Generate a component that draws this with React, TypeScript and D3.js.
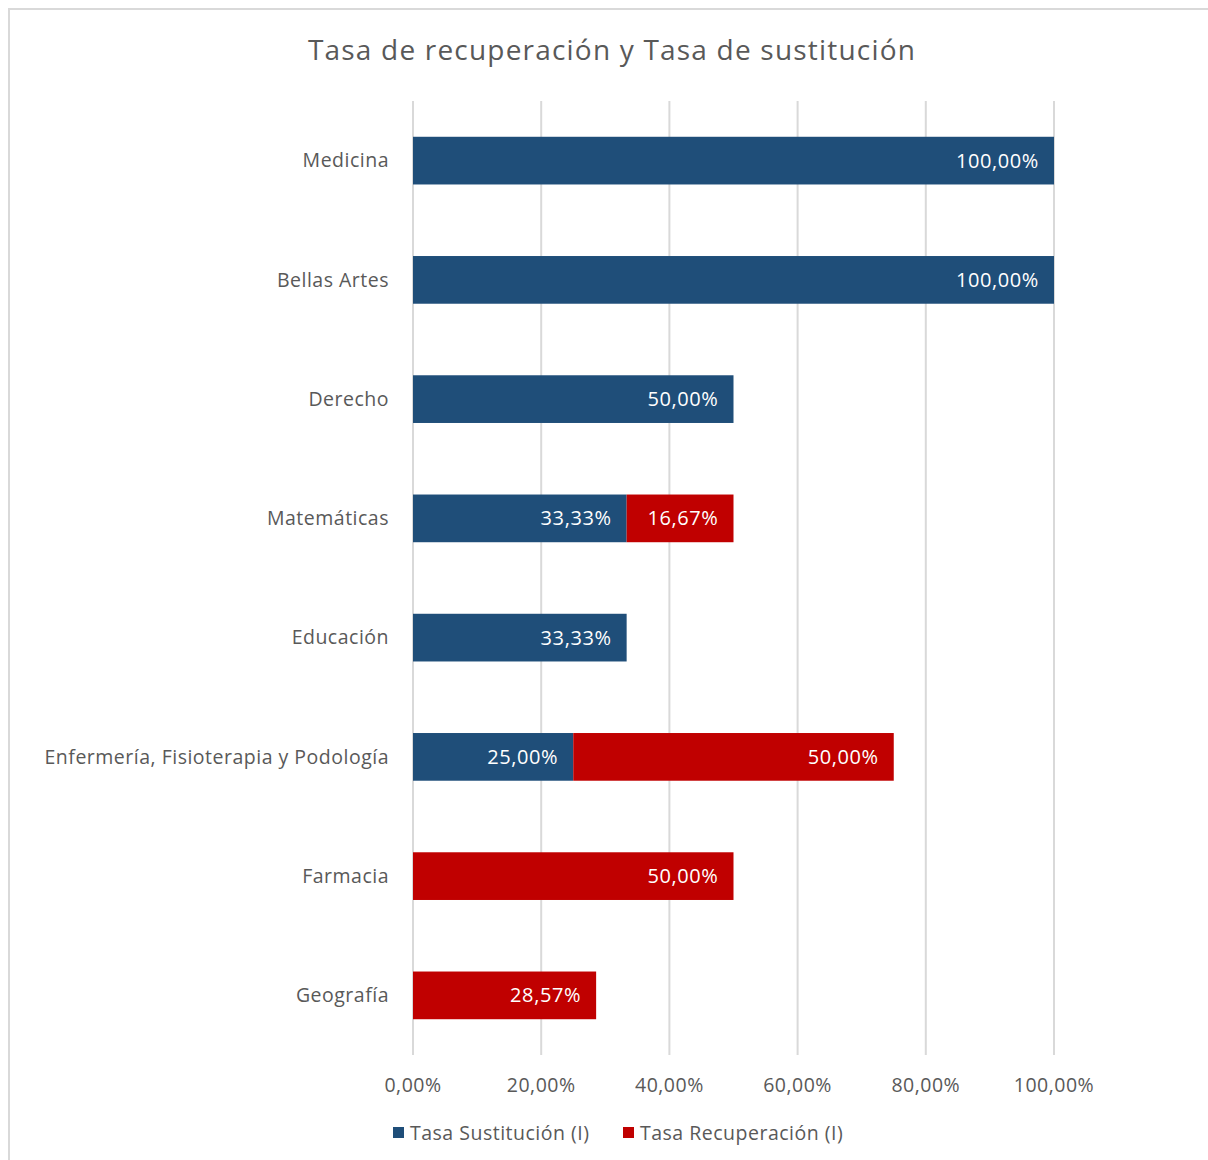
import React from "react";
import * as d3 from "d3";

const categories = [
  "Medicina",
  "Bellas Artes",
  "Derecho",
  "Matemáticas",
  "Educación",
  "Enfermería, Fisioterapia y Podología",
  "Farmacia",
  "Geografía",
];
const sustitucion = [1, 1, 0.5, 0.3333, 0.3333, 0.25, 0, 0];
const recuperacion = [0, 0, 0, 0.1667, 0, 0.5, 0.5, 0.2857];
const seriesNames = ["Tasa Sustitución (I)", "Tasa Recuperación (I)"];
const seriesColors = ["#1F4E79", "#C00000"];
const xTicks = [0, 0.2, 0.4, 0.6, 0.8, 1.0];
const title = "Tasa de recuperación y Tasa de sustitución";

const W = 1208;
const H = 1160;
const FONT = "'Open Sans', sans-serif";
const fmt = (v: number) => (v * 100).toFixed(2).replace(".", ",") + "%";
const LS = 0.5;
const FS = 19.5;

export default function App() {
  const x = d3.scaleLinear().domain([0, 1]).range([413, 1054]);
  const y = d3
    .scaleBand<string>()
    .domain(categories)
    .range([101, 1055])
    .paddingInner(0.6)
    .paddingOuter(0.3);

  const rows = categories.map((c, i) => ({ c, s: sustitucion[i], r: recuperacion[i] }));

  return (
    <svg
      width={W}
      height={H}
      style={{ position: "absolute", left: 0, top: 0, fontFamily: FONT }}
    >
      <rect x={0} y={0} width={W} height={H} fill="#fff" />
      <rect x={9} y={9} width={W + 10} height={H + 10} fill="none" stroke="#d9d9d9" strokeWidth={2} />
      <text x={612} y={60} textAnchor="middle" fontSize={28} letterSpacing={1.2} fill="#595959">
        {title}
      </text>
      {xTicks.map((t) => (
        <g key={t}>
          <line x1={x(t)} x2={x(t)} y1={101} y2={1055} stroke="#d9d9d9" strokeWidth={2} />
          <text x={x(t)} y={1092} textAnchor="middle" fontSize={FS} letterSpacing={LS} fill="#595959">
            {fmt(t)}
          </text>
        </g>
      ))}
      {rows.map((d) => {
        const y0 = y(d.c)!;
        const bw = y.bandwidth();
        const cy = y0 + bw / 2;
        return (
          <g key={d.c}>
            <text x={389} y={cy} dy="0.35em" textAnchor="end" fontSize={FS} letterSpacing={LS} fill="#595959">
              {d.c}
            </text>
            {d.s > 0 && (
              <>
                <rect x={x(0)} y={y0} width={x(d.s) - x(0)} height={bw} fill={seriesColors[0]} />
                <text x={x(d.s) - 15} y={cy} dy="0.35em" textAnchor="end" fontSize={20} letterSpacing={0.6} fill="#fff">
                  {fmt(d.s)}
                </text>
              </>
            )}
            {d.r > 0 && (
              <>
                <rect x={x(d.s)} y={y0} width={x(d.s + d.r) - x(d.s)} height={bw} fill={seriesColors[1]} />
                <text x={x(d.s + d.r) - 15} y={cy} dy="0.35em" textAnchor="end" fontSize={20} letterSpacing={0.6} fill="#fff">
                  {fmt(d.r)}
                </text>
              </>
            )}
          </g>
        );
      })}
      <g>
        <rect x={393} y={1127} width={11} height={11} fill={seriesColors[0]} />
        <text x={410} y={1133} dy="0.35em" fontSize={FS} letterSpacing={LS} fill="#595959">
          {seriesNames[0]}
        </text>
        <rect x={623} y={1127} width={11} height={11} fill={seriesColors[1]} />
        <text x={640} y={1133} dy="0.35em" fontSize={FS} letterSpacing={LS} fill="#595959">
          {seriesNames[1]}
        </text>
      </g>
    </svg>
  );
}
